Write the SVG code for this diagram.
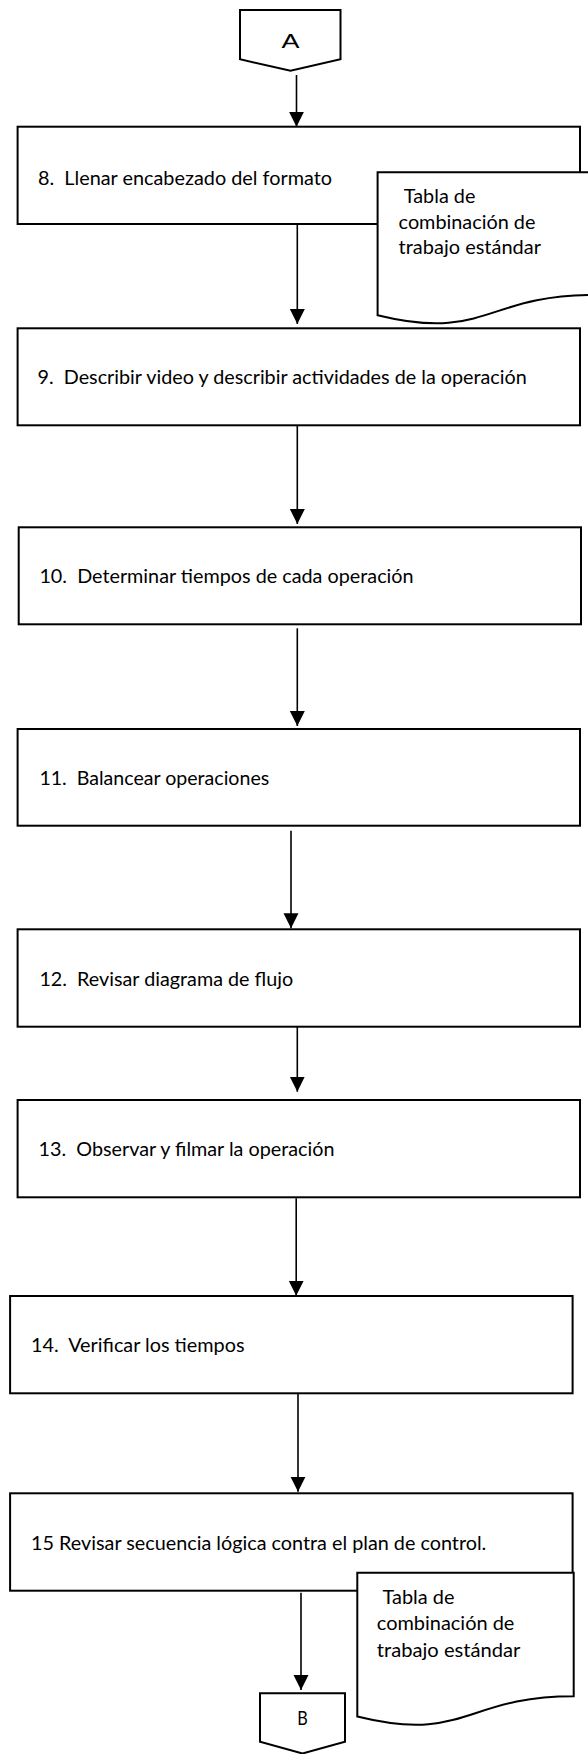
<svg xmlns="http://www.w3.org/2000/svg" width="588" height="1754" viewBox="0 0 588 1754">
  <style>
    .box { fill: #fff; stroke: #000; stroke-width: 2; }
    .conn { fill: #fff; stroke: #000; stroke-width: 2; stroke-linejoin: miter; }
    .doc { fill: #fff; stroke: #000; stroke-width: 2; }
    .edge { stroke: #000; stroke-width: 1.6; fill: none; }
    .lbl { font-family: Lato, "Liberation Sans", sans-serif; font-size: 18.5px; fill: #000; white-space: pre; }
    .dlbl { font-family: Lato, "Liberation Sans", sans-serif; font-size: 19px; fill: #000; white-space: pre; }
  </style>
  <defs>
    <marker id="arrow" markerUnits="userSpaceOnUse" markerWidth="16" markerHeight="16" refX="15" refY="7.5" orient="auto">
      <path d="M0,0 L15,7.5 L0,15 Z" fill="#000"/>
    </marker>
  </defs>
  <rect width="588" height="1754" fill="#fff"/>

  <!-- off-page connector A -->
  <g id="conn-a">
    <polygon class="conn" points="240,10 340.5,10 340.5,59.3 290.5,70.7 240,59.3"/>
    <text x="290.5" y="47.7" text-anchor="middle" font-family="'Liberation Sans', Arial, sans-serif" font-size="21" textLength="18" lengthAdjust="spacingAndGlyphs">A</text>
  </g>

  <!-- process steps -->
  <g id="step-8">
    <rect class="box" x="17.6" y="126.7" width="562.4" height="97.3"/>
    <text class="lbl" xml:space="preserve" x="38" y="185" textLength="294" lengthAdjust="spacingAndGlyphs">8.  Llenar encabezado del formato</text>
  </g>

  <g id="doc-1">
    <path class="doc" d="M377.6,172.3 H593.6 V295 C485.6,295 485.6,341.8 377.6,315.2 Z"/>
    <text class="dlbl" x="403.8" y="203" textLength="71.6" lengthAdjust="spacingAndGlyphs">Tabla de</text>
    <text class="dlbl" x="398.6" y="228.5" textLength="136.8" lengthAdjust="spacingAndGlyphs">combinación de</text>
    <text class="dlbl" x="398.6" y="254" textLength="142.4" lengthAdjust="spacingAndGlyphs">trabajo estándar</text>
  </g>

  <g id="step-9">
    <rect class="box" x="17.6" y="328.3" width="562.4" height="97"/>
    <text class="lbl" xml:space="preserve" x="37.5" y="384" textLength="489.3" lengthAdjust="spacingAndGlyphs">9.  Describir video y describir actividades de la operación</text>
  </g>

  <g id="step-10">
    <rect class="box" x="18.7" y="527.3" width="562.3" height="97"/>
    <text class="lbl" xml:space="preserve" x="39.4" y="583.3" textLength="374.2" lengthAdjust="spacingAndGlyphs">10.  Determinar tiempos de cada operación</text>
  </g>

  <g id="step-11">
    <rect class="box" x="17.6" y="729" width="562.4" height="96.7"/>
    <text class="lbl" xml:space="preserve" x="39.4" y="785" textLength="229.8" lengthAdjust="spacingAndGlyphs">11.  Balancear operaciones</text>
  </g>

  <g id="step-12">
    <rect class="box" x="17.6" y="929.3" width="562.4" height="97.4"/>
    <text class="lbl" xml:space="preserve" x="39.4" y="985.7" textLength="253.8" lengthAdjust="spacingAndGlyphs">12.  Revisar diagrama de flujo</text>
  </g>

  <g id="step-13">
    <rect class="box" x="17.6" y="1100" width="562.4" height="97.3"/>
    <text class="lbl" xml:space="preserve" x="38.6" y="1156" textLength="295.9" lengthAdjust="spacingAndGlyphs">13.  Observar y filmar la operación</text>
  </g>

  <g id="step-14">
    <rect class="box" x="10.1" y="1296" width="562.5" height="97.3"/>
    <text class="lbl" xml:space="preserve" x="31.1" y="1351.7" textLength="213.4" lengthAdjust="spacingAndGlyphs">14.  Verificar los tiempos</text>
  </g>

  <g id="step-15">
    <rect class="box" x="10.1" y="1493.3" width="562.5" height="97.4"/>
    <text class="lbl" x="31.1" y="1550" textLength="455.2" lengthAdjust="spacingAndGlyphs">15 Revisar secuencia lógica contra el plan de control.</text>
  </g>

  <g id="doc-2">
    <path class="doc" d="M357.3,1572.7 H573.7 V1696.2 C465.5,1696.2 465.5,1743.3 357.3,1716.5 Z"/>
    <text class="dlbl" x="382.5" y="1604" textLength="71.9" lengthAdjust="spacingAndGlyphs">Tabla de</text>
    <text class="dlbl" x="376.8" y="1630" textLength="137.6" lengthAdjust="spacingAndGlyphs">combinación de</text>
    <text class="dlbl" x="376.8" y="1656.7" textLength="143.6" lengthAdjust="spacingAndGlyphs">trabajo estándar</text>
  </g>

  <!-- off-page connector B -->
  <g id="conn-b">
    <polygon class="conn" points="260,1693.3 345,1693.3 345,1741.7 302.5,1753.5 260,1741.7"/>
    <text x="302.5" y="1725" text-anchor="middle" font-family="Lato, 'Liberation Sans', sans-serif" font-size="18.5" textLength="10.5" lengthAdjust="spacingAndGlyphs">B</text>
  </g>

  <!-- connectors -->
  <g id="edges">
    <line class="edge" x1="296.5" y1="75" x2="296.5" y2="126.7" marker-end="url(#arrow)"/>
    <line class="edge" x1="297.3" y1="225" x2="297.3" y2="324" marker-end="url(#arrow)"/>
    <line class="edge" x1="297.3" y1="426" x2="297.3" y2="524" marker-end="url(#arrow)"/>
    <line class="edge" x1="297.3" y1="628.3" x2="297.3" y2="726" marker-end="url(#arrow)"/>
    <line class="edge" x1="291" y1="830.7" x2="291" y2="928.3" marker-end="url(#arrow)"/>
    <line class="edge" x1="297.3" y1="1027" x2="297.3" y2="1091.7" marker-end="url(#arrow)"/>
    <line class="edge" x1="296.2" y1="1198.3" x2="296.2" y2="1295.7" marker-end="url(#arrow)"/>
    <line class="edge" x1="298" y1="1394" x2="298" y2="1491.7" marker-end="url(#arrow)"/>
    <line class="edge" x1="301" y1="1592.7" x2="301" y2="1690" marker-end="url(#arrow)"/>
  </g>
</svg>
